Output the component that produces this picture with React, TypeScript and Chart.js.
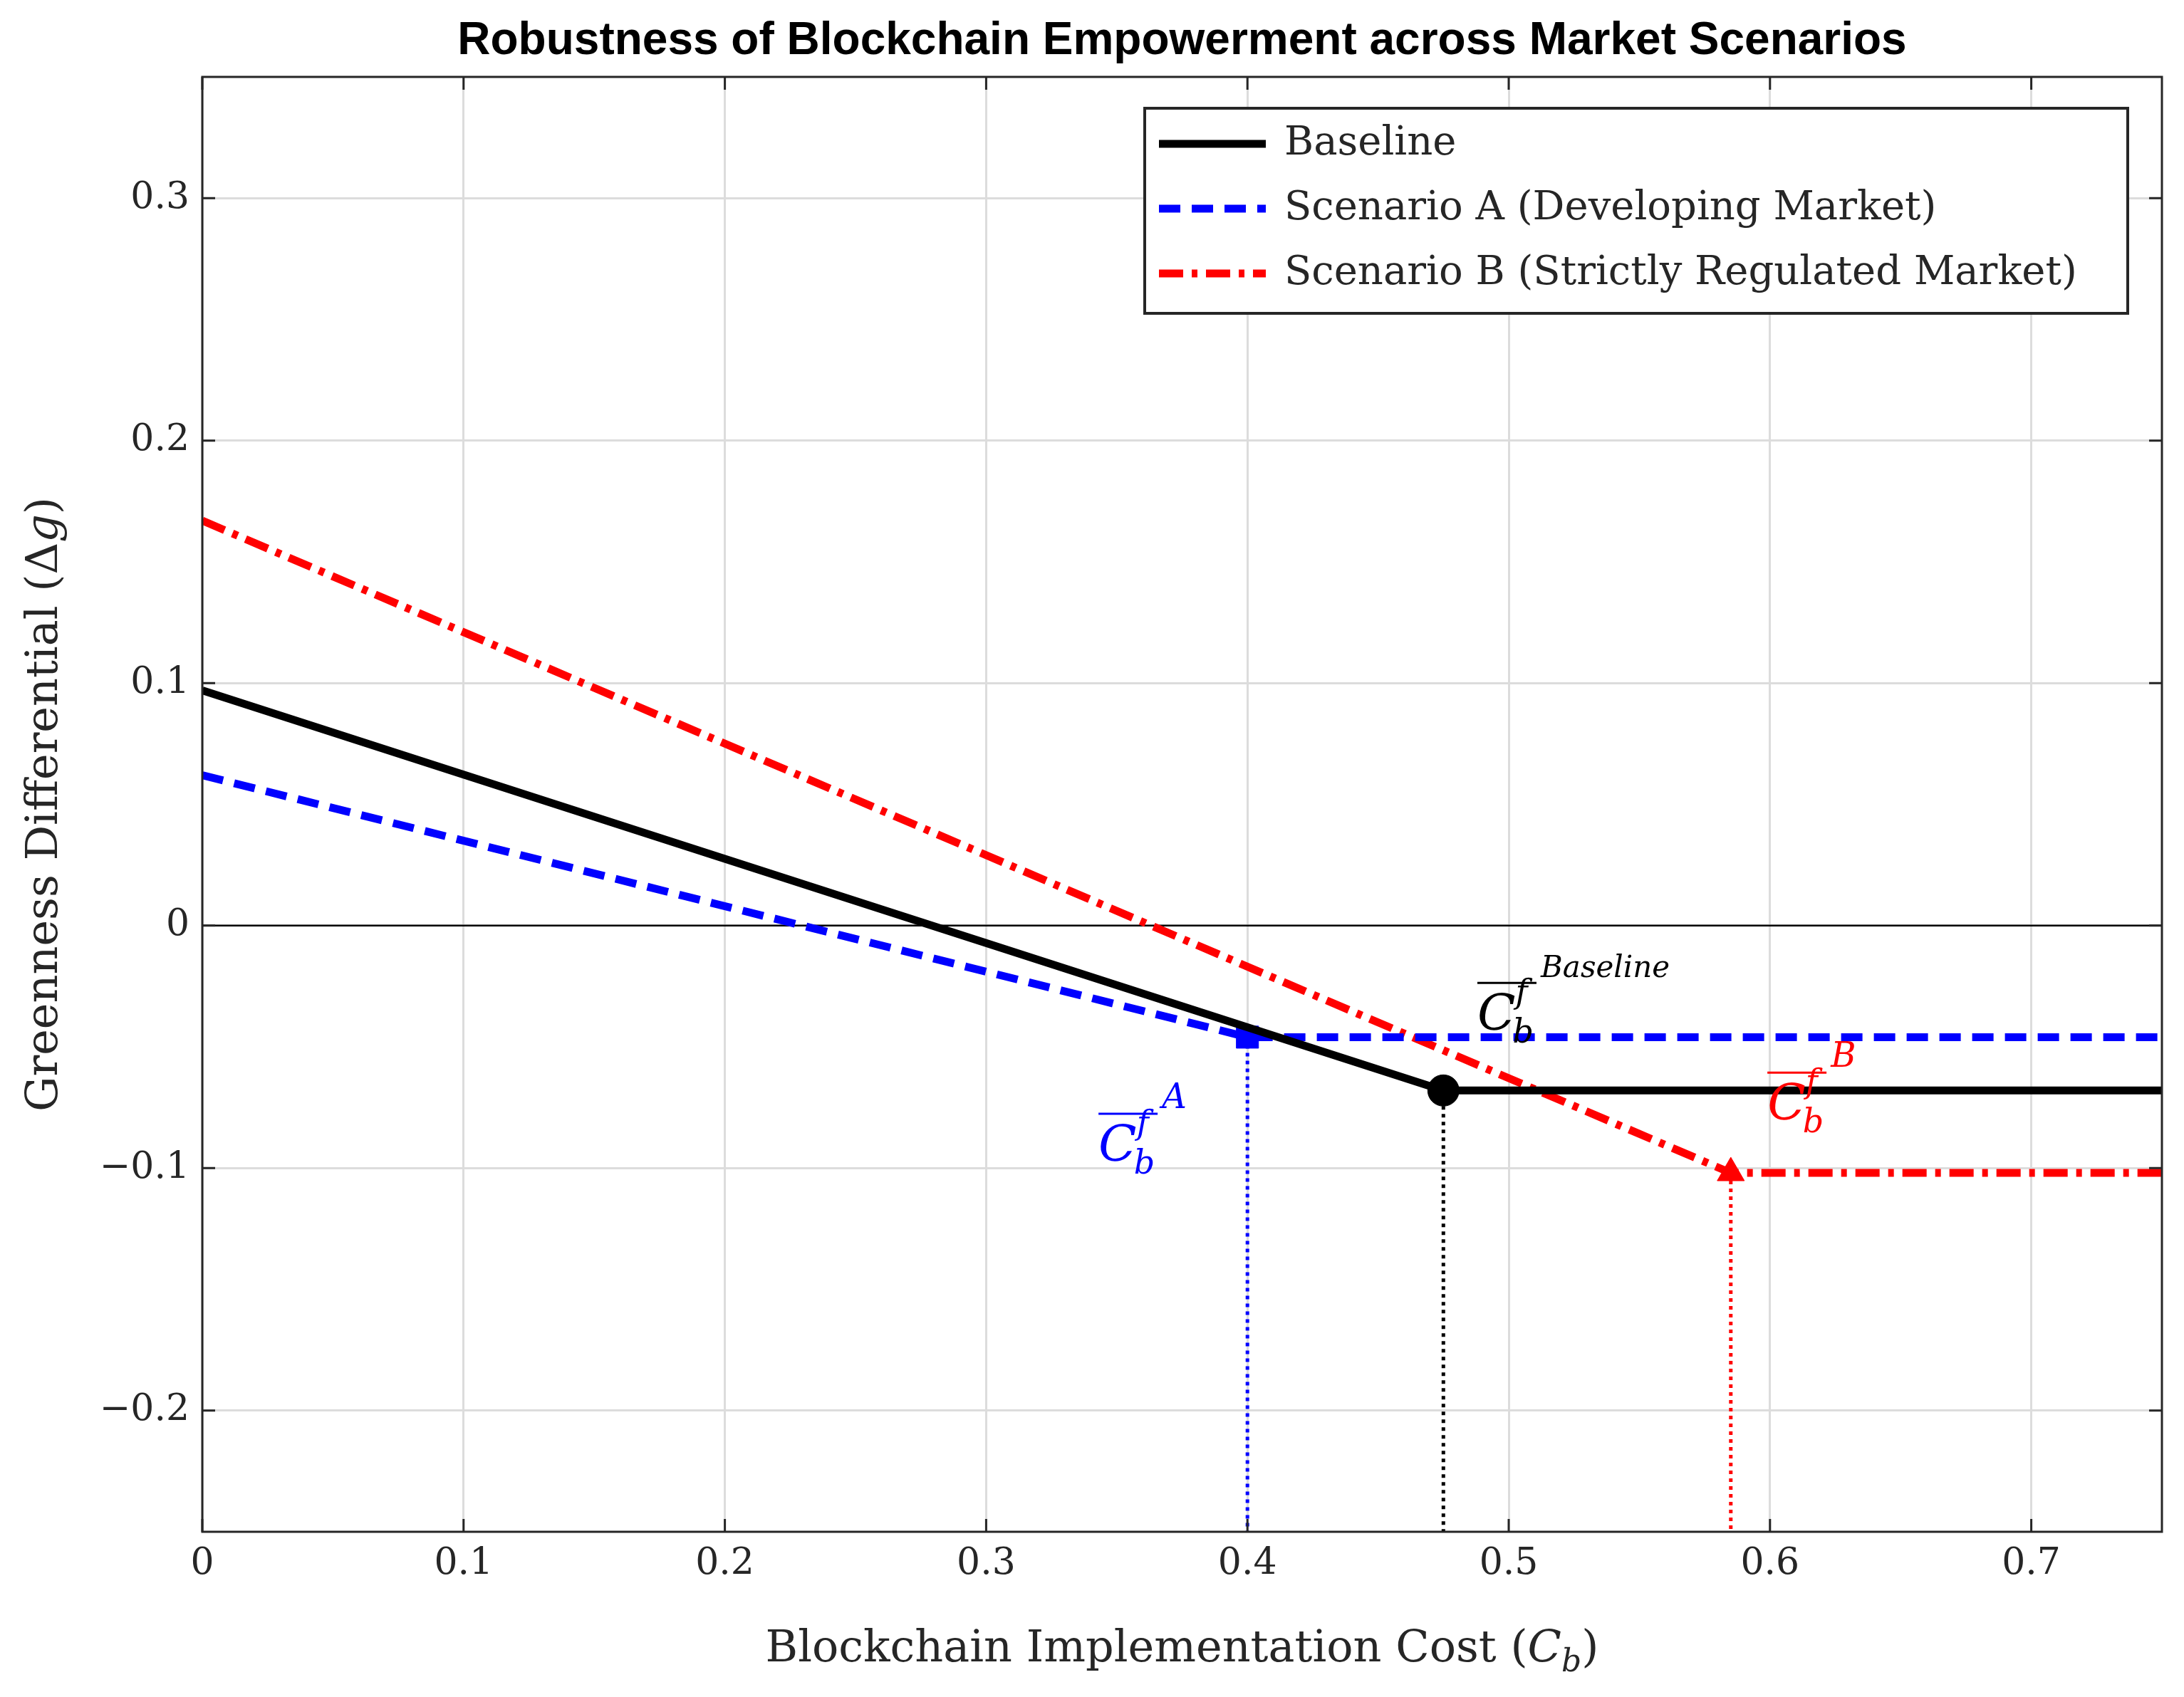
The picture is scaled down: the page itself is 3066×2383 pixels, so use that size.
import React, { useEffect, useRef } from "react";
import { Chart, registerables } from "chart.js";
Chart.register(...registerables);

const xTicks = [0, 0.1, 0.2, 0.3, 0.4, 0.5, 0.6, 0.7];
const yTicks = [-0.2, -0.1, 0, 0.1, 0.2, 0.3];
const baselineX = [0, 0.475, 0.75];
const baselineY = [0.097, -0.068, -0.068];
const scenAX = [0, 0.4, 0.75];
const scenAY = [0.062, -0.046, -0.046];
const scenBX = [0, 0.585, 0.75];
const scenBY = [0.167, -0.102, -0.102];
const thresholds = [
  { x: 0.4, y: -0.046, color: "#0000ff", style: "rect", sup: "A", lx: 0.343, ly: -0.097 },
  { x: 0.475, y: -0.068, color: "#000000", style: "circle", sup: "Baseline", lx: 0.488, ly: -0.043 },
  { x: 0.585, y: -0.102, color: "#ff0000", style: "triangle", sup: "B", lx: 0.599, ly: -0.08 },
];
const legendLabels = ["Baseline", "Scenario A (Developing Market)", "Scenario B (Strictly Regulated Market)"];

const SERIF = "'DejaVu Serif', 'Liberation Serif', serif";
const fmt = (v: number) => (Math.abs(v) < 1e-9 ? "0" : (v < 0 ? "\u2212" : "") + Math.abs(v).toFixed(1));
const pts = (xs: number[], ys: number[]) => xs.map((x, i) => ({ x, y: ys[i] }));

function drawCbf(ctx: CanvasRenderingContext2D, x: number, y: number, sup: string, color: string) {
  ctx.save();
  ctx.fillStyle = color;
  ctx.strokeStyle = color;
  ctx.textAlign = "left";
  ctx.textBaseline = "alphabetic";
  ctx.font = `italic 70px ${SERIF}`;
  const cw = ctx.measureText("C").width;
  ctx.fillText("C", x, y);
  ctx.font = `italic 46px ${SERIF}`;
  ctx.fillText("b", x + cw - 4, y + 18);
  ctx.fillText("f", x + cw, y - 38);
  const fw = Math.max(ctx.measureText("b").width, ctx.measureText("f").width + 4);
  ctx.lineWidth = 3;
  ctx.beginPath();
  ctx.moveTo(x, y - 66);
  ctx.lineTo(x + cw + fw, y - 66);
  ctx.stroke();
  ctx.font = `italic ${sup.length > 1 ? 42 : 48}px ${SERIF}`;
  ctx.fillText(sup, x + cw + fw + 6, y - 74);
  ctx.restore();
}

const overlay = {
  id: "overlay",
  beforeDatasetsDraw(chart: any) {
    const { ctx, chartArea: a, scales } = chart;
    const xs = scales.x, ys = scales.y;
    ctx.save();
    ctx.strokeStyle = "#000";
    ctx.lineWidth = 2.5;
    ctx.beginPath();
    ctx.moveTo(a.left, ys.getPixelForValue(0));
    ctx.lineTo(a.right, ys.getPixelForValue(0));
    ctx.stroke();
    ctx.lineWidth = 5;
    ctx.setLineDash([5, 6]);
    for (const t of thresholds) {
      ctx.strokeStyle = t.color;
      ctx.beginPath();
      ctx.moveTo(xs.getPixelForValue(t.x), ys.getPixelForValue(t.y));
      ctx.lineTo(xs.getPixelForValue(t.x), a.bottom);
      ctx.stroke();
    }
    ctx.restore();
  },
  afterDraw(chart: any) {
    const { ctx, chartArea: a, scales } = chart;
    const xs = scales.x, ys = scales.y;
    ctx.save();
    ctx.strokeStyle = "#262626";
    ctx.lineWidth = 3;
    ctx.strokeRect(a.left, a.top, a.right - a.left, a.bottom - a.top);
    ctx.beginPath();
    for (const v of xTicks) {
      const px = xs.getPixelForValue(v);
      ctx.moveTo(px, a.bottom); ctx.lineTo(px, a.bottom - 18);
      ctx.moveTo(px, a.top); ctx.lineTo(px, a.top + 18);
    }
    for (const v of yTicks) {
      const py = ys.getPixelForValue(v);
      ctx.moveTo(a.left, py); ctx.lineTo(a.left + 18, py);
      ctx.moveTo(a.right, py); ctx.lineTo(a.right - 18, py);
    }
    ctx.stroke();
    for (const t of thresholds) drawCbf(ctx, xs.getPixelForValue(t.lx), ys.getPixelForValue(t.ly), t.sup, t.color);
    ctx.fillStyle = "#000";
    ctx.textAlign = "center";
    ctx.textBaseline = "middle";
    ctx.font = "bold 64px 'Liberation Sans', Arial, sans-serif";
    ctx.fillText("Robustness of Blockchain Empowerment across Market Scenarios", (a.left + a.right) / 2, 50);
    ctx.fillStyle = "#262626";
    const F = 62;
    ctx.font = `${F}px ${SERIF}`;
    ctx.textAlign = "left";
    ctx.textBaseline = "alphabetic";
    const p1 = "Blockchain Implementation Cost (";
    const w1 = ctx.measureText(p1).width;
    ctx.font = `italic ${F}px ${SERIF}`;
    const wc = ctx.measureText("C").width;
    ctx.font = `italic 44px ${SERIF}`;
    const wb = ctx.measureText("b").width;
    ctx.font = `${F}px ${SERIF}`;
    const w3 = ctx.measureText(")").width;
    let sx = (a.left + a.right) / 2 - (w1 + wc + wb + w3) / 2;
    const by = a.bottom + 182;
    ctx.fillText(p1, sx, by); sx += w1;
    ctx.font = `italic ${F}px ${SERIF}`; ctx.fillText("C", sx, by); sx += wc;
    ctx.font = `italic 44px ${SERIF}`; ctx.fillText("b", sx, by + 14); sx += wb;
    ctx.font = `${F}px ${SERIF}`; ctx.fillText(")", sx, by);
    ctx.translate(72, (a.top + a.bottom) / 2);
    ctx.rotate(-Math.PI / 2);
    const q1 = "Greenness Differential (\u0394";
    const q1w = ctx.measureText(q1).width;
    ctx.font = `italic ${F}px ${SERIF}`;
    const gw = ctx.measureText("g").width;
    ctx.font = `${F}px ${SERIF}`;
    let tx = -(q1w + gw + w3) / 2;
    ctx.fillText(q1, tx, 0); tx += q1w;
    ctx.font = `italic ${F}px ${SERIF}`; ctx.fillText("g", tx, 0); tx += gw;
    ctx.font = `${F}px ${SERIF}`; ctx.fillText(")", tx, 0);
    ctx.restore();
    ctx.save();
    const lx = 1599, ly = 144, lw = 1380, lh = 288;
    ctx.fillStyle = "#fff";
    ctx.fillRect(lx, ly, lw, lh);
    ctx.strokeStyle = "#262626";
    ctx.lineWidth = 4;
    ctx.strokeRect(lx, ly, lw, lh);
    const colors = ["#000", "#0000ff", "#ff0000"];
    const dashes = [[], [30, 16], [34, 12, 8, 12]];
    ctx.font = `56px ${SERIF}`;
    ctx.textBaseline = "middle";
    for (let i = 0; i < 3; i++) {
      const yy = ly + 50 + i * 91;
      ctx.strokeStyle = colors[i];
      ctx.lineWidth = 11;
      ctx.setLineDash(dashes[i]);
      ctx.beginPath();
      ctx.moveTo(lx + 20, yy); ctx.lineTo(lx + 170, yy);
      ctx.stroke();
      ctx.fillStyle = "#262626";
      ctx.fillText(legendLabels[i], lx + 196, yy);
    }
    ctx.restore();
  },
};

export default function App() {
  const ref = useRef<HTMLCanvasElement>(null);
  useEffect(() => {
    const chart = new Chart(ref.current!, {
      type: "line",
      data: {
        datasets: [
          { data: pts(baselineX, baselineY), borderColor: "#000", borderWidth: 11, pointRadius: 0 },
          { data: pts(scenAX, scenAY), borderColor: "#0000ff", borderWidth: 11, borderDash: [30, 16], pointRadius: 0 },
          { data: pts(scenBX, scenBY), borderColor: "#ff0000", borderWidth: 11, borderDash: [34, 12, 8, 12], pointRadius: 0 },
          ...thresholds.map((t) => ({
            type: "scatter" as const,
            data: [{ x: t.x, y: t.y }],
            backgroundColor: t.color,
            borderColor: t.color,
            pointStyle: t.style as any,
            pointRadius: 22,
          })),
        ],
      } as any,
      options: {
        animation: false,
        responsive: false,
        devicePixelRatio: 1,
        layout: { padding: { top: 100, right: 23, left: 0, bottom: 0 } },
        plugins: { legend: { display: false }, tooltip: { enabled: false } },
        scales: {
          x: {
            type: "linear", min: 0, max: 0.75,
            afterBuildTicks: (s: any) => { s.ticks = xTicks.map((v) => ({ value: v })); },
            afterFit: (s: any) => { s.height = 224; },
            ticks: { callback: (v: any) => fmt(Number(v)), font: { family: SERIF, size: 52 }, color: "#262626", padding: 14 },
            grid: { color: "#dcdcdc", lineWidth: 3, drawTicks: false },
            border: { display: false },
          },
          y: {
            type: "linear", min: -0.25, max: 0.35,
            afterBuildTicks: (s: any) => { s.ticks = yTicks.map((v) => ({ value: v })); },
            afterFit: (s: any) => { s.width = 276; },
            ticks: { callback: (v: any) => fmt(Number(v)), font: { family: SERIF, size: 52 }, color: "#262626", padding: 18 },
            grid: { color: "#dcdcdc", lineWidth: 3, drawTicks: false },
            border: { display: false },
          },
        },
      } as any,
      plugins: [overlay],
    });
    return () => chart.destroy();
  }, []);
  return <canvas ref={ref} width={3050} height={2367} style={{ width: 3050, height: 2367, display: "block" }} />;
}
